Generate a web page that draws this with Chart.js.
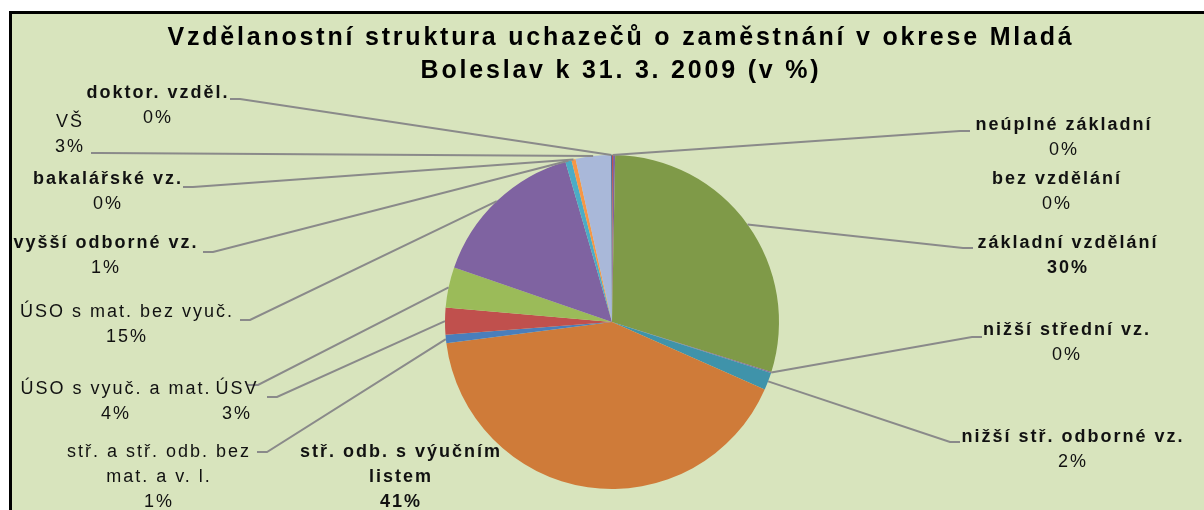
<!DOCTYPE html>
<html>
<head>
<meta charset="utf-8">
<script src="https://cdn.jsdelivr.net/npm/chart.js@4.4.0/dist/chart.umd.min.js"></script>
<style>
    html, body { margin: 0; padding: 0; background: #fff; }
    #wrap { width: 1204px; height: 510px; }
</style>
</head>
<body>
<div id="wrap"><canvas id="eduChart" width="1204" height="510"></canvas></div>
<script>
// data
const titleLines = ['Vzdělanostní struktura uchazečů o zaměstnání v okrese Mladá', 'Boleslav k 31. 3. 2009 (v %)'];
const categories = [
    'neúplné základní',
    'bez vzdělání',
    'základní vzdělání',
    'nižší střední vz.',
    'nižší stř. odborné vz.',
    ['stř. odb. s výučním', 'listem'],
    ['stř. a stř. odb. bez', 'mat. a v. l.'],
    'ÚSV',
    'ÚSO s vyuč. a mat.',
    'ÚSO s mat. bez vyuč.',
    'vyšší odborné vz.',
    'bakalářské vz.',
    'VŠ',
    'doktor. vzděl.'
];
const shares = [0.1, 0.2, 29.5, 0.1, 1.7, 41.3, 0.8, 2.6, 3.9, 15.2, 0.6, 0.4, 3.4, 0.1];
const sliceColors = ['#c0504d', '#8064a2', '#7f9a48', '#8064a2', '#3f93aa', '#cf7b39', '#4a7ebb',
    '#c0504d', '#9bbb59', '#7f63a1', '#4bacc6', '#f79646', '#a9b8d9', '#4f6e99'];

// label placement: text centre x, first line y, leader start (null = no leader)
const labelLayout = [
    { x: 1063, y: 125, bold: true, from: [970, 131] },
    { x: 1056, y: 179, bold: true, from: null },
    { x: 1067, y: 243, bold: true, from: [973, 248] },
    { x: 1066, y: 330, bold: true, from: [982, 337] },
    { x: 1072, y: 437, bold: true, from: [960, 442] },
    { x: 400, y: 452, bold: true, from: null },
    { x: 158, y: 452, bold: false, from: [257, 452] },
    { x: 236, y: 389, bold: false, from: [267, 397] },
    { x: 115, y: 389, bold: false, from: [248, 385] },
    { x: 126, y: 312, bold: false, from: [240, 320] },
    { x: 105, y: 243, bold: true, from: [203, 252] },
    { x: 107, y: 179, bold: true, from: [183, 187] },
    { x: 69, y: 122, bold: false, from: [91, 153] },
    { x: 157, y: 93, bold: true, from: [230, 99] }
];

const total = shares.reduce((a, b) => a + b, 0);

const frame = {
    id: 'frame',
    beforeDraw(chart) {
        const c = chart.ctx;
        c.save();
        c.fillStyle = '#ffffff';
        c.fillRect(0, 0, chart.width, chart.height);
        c.fillStyle = '#d8e4bd';
        c.fillRect(10, 12, chart.width - 10, chart.height - 12);
        c.fillStyle = '#000';
        c.fillRect(9, 11, chart.width - 9, 3);
        c.fillRect(9, 11, 3, chart.height - 11);
        c.restore();
    },
    afterDraw(chart) {
        const c = chart.ctx;
        c.save();
        c.fillStyle = '#000';
        c.textAlign = 'center';
        c.textBaseline = 'middle';
        c.font = 'bold 25px "Liberation Sans", Arial, sans-serif';
        c.letterSpacing = '2.8px';
        c.fillText(titleLines[0], 621, 38);
        c.fillText(titleLines[1], 621, 71);

        const arcs = chart.getDatasetMeta(0).data;
        // leader lines
        c.strokeStyle = '#8a8a8a';
        c.lineWidth = 2;
        labelLayout.forEach((l, i) => {
            if (!l.from) return;
            const a = arcs[i];
            const mid = (a.startAngle + a.endAngle) / 2;
            const ex = a.x + Math.cos(mid) * a.outerRadius;
            const ey = a.y + Math.sin(mid) * a.outerRadius;
            const dir = l.from[0] < a.x ? 1 : -1;
            c.beginPath();
            c.moveTo(l.from[0], l.from[1]);
            c.lineTo(l.from[0] + dir * 10, l.from[1]);
            c.lineTo(ex, ey);
            c.stroke();
        });
        // labels: name lines then percentage
        c.fillStyle = '#111';
        c.letterSpacing = '2px';
        labelLayout.forEach((l, i) => {
            const name = Array.isArray(categories[i]) ? categories[i] : [categories[i]];
            const pct = Math.round(shares[i] / total * 100);
            c.font = (l.bold ? 'bold ' : '') + '18px "Liberation Sans", Arial, sans-serif';
            name.forEach((t, k) => {
                c.fillText(t, l.x + 1, l.y + k * 25);
            });
            c.font = (pct > 20 ? 'bold ' : '') + '18px "Liberation Sans", Arial, sans-serif';
            c.fillText(pct + '%', l.x + 1, l.y + name.length * 25);
        });
        c.restore();
    }
};

new Chart(document.getElementById('eduChart'), {
    type: 'pie',
    data: {
        labels: categories,
        datasets: [{
            data: shares,
            backgroundColor: sliceColors,
            borderWidth: 0
        }]
    },
    options: {
        responsive: false,
        animation: false,
        devicePixelRatio: 1,
        layout: { padding: { top: 155, bottom: 21, left: 20, right: 0 } },
        plugins: {
            legend: { display: false },
            tooltip: { enabled: false }
        }
    },
    plugins: [frame]
});
</script>
</body>
</html>
